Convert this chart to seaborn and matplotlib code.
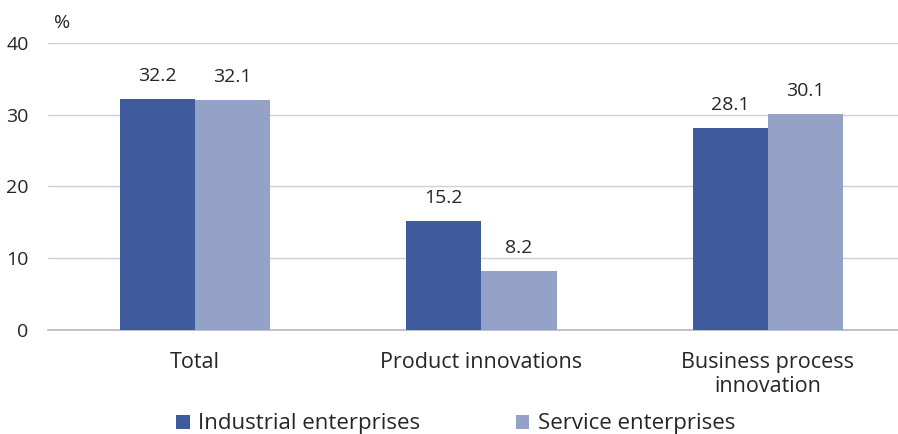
import matplotlib
matplotlib.use("Agg")
import matplotlib.pyplot as plt
import seaborn as sns
import pandas as pd
from matplotlib.patches import Patch

categories = ["Total", "Product innovations", "Business process\ninnovation"]
industrial = [32.2, 15.2, 28.1]
service = [32.1, 8.2, 30.1]
series_names = ["Industrial enterprises", "Service enterprises"]
colors = ["#3F5B9E", "#93A2C6"]

df = pd.DataFrame({
    "category": categories * 2,
    "value": industrial + service,
    "series": [series_names[0]] * 3 + [series_names[1]] * 3,
})

sns.set_theme(style="white")
plt.rcParams["font.family"] = ["Open Sans", "DejaVu Sans"]
text_color = "#262626"

fig = plt.figure(figsize=(8.98, 4.34), dpi=100)
ax = fig.add_axes([48 / 898, 0.2396, 850 / 898, 0.901 - 0.2396])

sns.barplot(data=df, x="category", y="value", hue="series", palette=colors,
            width=0.524, saturation=1, ax=ax, legend=False, zorder=3,
            linewidth=0, edgecolor="none")

ax.set_xlim(-0.513, 2.454)
ax.set_ylim(0, 40)
ax.set_yticks([0, 10, 20, 30, 40])
ax.yaxis.grid(True, color="#cfd0da", linewidth=1.0, zorder=0)
ax.set_axisbelow(True)
for s in ["top", "right", "left"]:
    ax.spines[s].set_visible(False)
ax.spines["bottom"].set_color("#b4b6c9")
ax.spines["bottom"].set_linewidth(1.2)
ax.tick_params(axis="both", length=0, colors=text_color)
ax.tick_params(axis="y", pad=14, labelsize=14)
ax.tick_params(axis="x", pad=16, labelsize=15.5)
for lbl in ax.get_xticklabels():
    lbl.set_linespacing(1.2)
ax.set_xlabel("")
ax.set_ylabel("")

for container in ax.containers:
    ax.bar_label(container, fmt="%.1f", padding=10, fontsize=14, color=text_color)

fig.text(54 / 898, 1 - 23 / 434, "%", fontsize=14, color=text_color, va="center")

handles = [Patch(facecolor=c, edgecolor="none") for c in colors]
fig.legend(handles, series_names, loc="center", bbox_to_anchor=(456 / 898, 1 - 424 / 434),
           ncol=2, frameon=False, fontsize=16, handlelength=0.6, handleheight=0.6,
           handletextpad=0.4, columnspacing=4.3, labelcolor=text_color)

fig.savefig("out.png", dpi=100)
